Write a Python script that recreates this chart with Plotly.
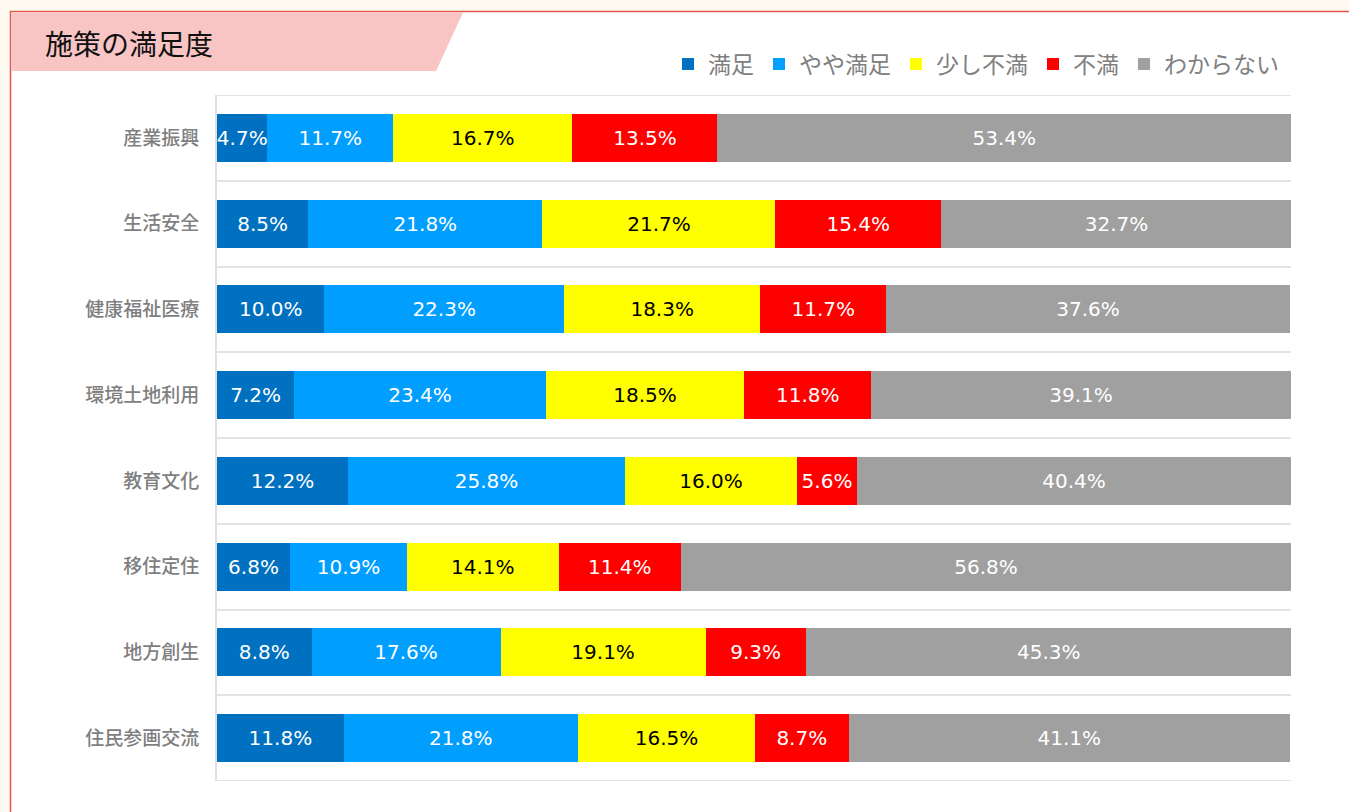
import plotly.graph_objects as go

categories = ["産業振興", "生活安全", "健康福祉医療", "環境土地利用", "教育文化", "移住定住", "地方創生", "住民参画交流"]
series_names = ["満足", "やや満足", "少し不満", "不満", "わからない"]
manzoku = [4.7, 8.5, 10.0, 7.2, 12.2, 6.8, 8.8, 11.8]
yaya_manzoku = [11.7, 21.8, 22.3, 23.4, 25.8, 10.9, 17.6, 21.8]
sukoshi_fuman = [16.7, 21.7, 18.3, 18.5, 16.0, 14.1, 19.1, 16.5]
fuman = [13.5, 15.4, 11.7, 11.8, 5.6, 11.4, 9.3, 8.7]
wakaranai = [53.4, 32.7, 37.6, 39.1, 40.4, 56.8, 45.3, 41.1]

series_values = [manzoku, yaya_manzoku, sukoshi_fuman, fuman, wakaranai]
colors = ["#0070c0", "#009eff", "#ffff00", "#ff0000", "#a0a0a0"]
text_colors = ["white", "white", "black", "white", "white"]

W, H = 1349, 812
L, R, T, B = 217, 58, 95, 31
pw, ph = W - L - R, H - T - B

def px(x):
    return (x - L) / pw

def py(y):
    return (H - B - y) / ph

FONT = "Noto Sans CJK JP"
NUMFONT = "DejaVu Sans"

fig = go.Figure()
ypos = list(range(len(categories)))
for name, vals, c, tc in zip(series_names, series_values, colors, text_colors):
    fig.add_trace(go.Bar(
        y=ypos, x=vals, name=name, orientation="h",
        marker=dict(color=c, line=dict(width=0)),
        text=[f"{v:.1f}%" for v in vals],
        textposition="inside", insidetextanchor="middle",
        constraintext="none",
        textfont=dict(color=tc, size=20, family=NUMFONT),
        hoverinfo="skip",
    ))

n = len(categories)
shapes = [
    # white card with red border
    dict(type="rect", xref="paper", yref="paper", x0=px(10.5), x1=px(1360), y0=py(11.5), y1=py(830),
         fillcolor="white", line=dict(color="#e2574c", width=1.5), layer="below"),
    # pink title band
    dict(type="path", xref="paper", yref="paper",
         path=f"M {px(11.5)},{py(12.5)} L {px(463)},{py(12.5)} L {px(436)},{py(71)} L {px(11.5)},{py(71)} Z",
         fillcolor="#f8c4c4", line=dict(width=0), layer="below"),
]
for yb in (-0.5, n - 0.5):
    shapes.append(dict(type="line", xref="paper", yref="y", x0=0, x1=1, y0=yb, y1=yb,
                       line=dict(color="#e3e3e3", width=2), layer="below"))

fig.update_layout(
    width=W, height=H,
    margin=dict(l=L, r=R, t=T, b=B),
    barmode="stack", bargap=0.44,
    paper_bgcolor="#fffaf1", plot_bgcolor="rgba(0,0,0,0)",
    font=dict(family=FONT, color="#7f7f7f"),
    shapes=shapes,
    annotations=[dict(text="施策の満足度", xref="paper", yref="paper", x=px(43), y=py(43),
                      xanchor="left", yanchor="middle", showarrow=False,
                      font=dict(size=28, color="#111111", family=FONT))],
    legend=dict(orientation="h", xanchor="right", yanchor="middle", x=px(1284), y=py(64),
                font=dict(size=23, color="#808080", family=FONT), bgcolor="rgba(0,0,0,0)",
                traceorder="normal", itemwidth=30),
    xaxis=dict(range=[0, 100], showticklabels=False, showgrid=False, zeroline=False, fixedrange=True),
    yaxis=dict(range=[n - 0.5, -0.5], tickvals=ypos, ticktext=categories,
               showgrid=False, zeroline=False, showline=True, linecolor="#e0e0e0", linewidth=2,
               ticks="outside", ticklen=12, tickcolor="rgba(0,0,0,0)",
               tickfont=dict(size=19, color="#7f7f7f", family=FONT, weight=500),
               minor=dict(tickvals=[i - 0.5 for i in range(n + 1)], showgrid=True,
                          gridcolor="#e3e3e3", gridwidth=2, ticks="")),
    showlegend=True,
)

fig.write_html("out.html")
